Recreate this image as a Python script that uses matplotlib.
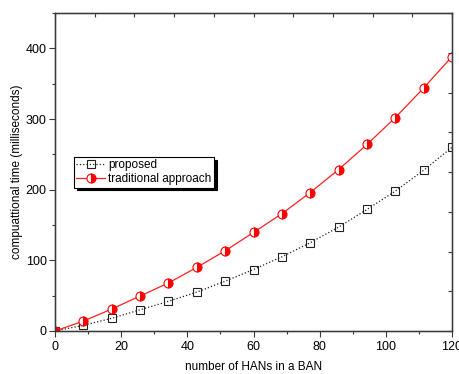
import numpy as np
import matplotlib.pyplot as plt

plt.rcParams['font.family'] = ['Liberation Sans', 'DejaVu Sans']

# number of HANs in a BAN
han_counts = [0, 8.57, 17.14, 25.71, 34.29, 42.86, 51.43, 60, 68.57, 77.14,
              85.71, 94.29, 102.86, 111.43, 120]
proposed = [0, 8, 18, 30, 42, 55, 70.5, 87, 105, 125, 147, 172, 198, 227.5, 260]
traditional = [0, 14, 31, 49.5, 68, 90, 113.5, 139.5, 166, 196, 228.5, 264, 302, 344, 388.5]

spine_col = '#3a3a3a'

fig = plt.figure(figsize=(4.59, 3.74), dpi=100)
ax = fig.add_axes([0.1198, 0.115, 0.865, 0.85])

ax.plot(han_counts, proposed, linestyle=':', color='#222222', lw=0.9,
        marker='s', markersize=5.5, markerfacecolor='none', markeredgecolor='#222222',
        markeredgewidth=0.8, label='proposed')
ax.plot(han_counts, traditional, linestyle='-', color='#ff2020', lw=0.9,
        marker='o', markersize=6.5, fillstyle='right', markerfacecolor='red',
        markerfacecoloralt='white', markeredgecolor='red', markeredgewidth=0.8,
        label='traditional approach')

ax.set_xlim(0, 120)
ax.set_ylim(0, 450)
ax.set_xticks(np.arange(0, 121, 20))
ax.set_xticks(np.arange(10, 120, 20), minor=True)
ax.set_yticks(np.arange(0, 401, 100))
ax.set_yticks(np.arange(50, 451, 100), minor=True)
ax.tick_params(which='major', direction='out', length=4, width=0.8, color=spine_col,
               labelsize=9, pad=2)
ax.tick_params(axis='x', which='major', pad=3.5)
ax.tick_params(which='minor', direction='out', length=2.5, width=0.8, color=spine_col)
for s in ax.spines.values():
    s.set_color(spine_col)
    s.set_linewidth(1.0)

# top and right axes with their own ticks, no labels
axt = ax.twiny()
axt.set_xlim(0, 120)
axt.set_xticks(np.arange(0, 121, 12))
axt.tick_params(direction='in', length=3, width=0.8, color=spine_col, labeltop=False)
axr = ax.twinx()
axr.set_ylim(0, 450)
axr.set_yticks(np.linspace(0, 450, 9))
axr.tick_params(direction='in', length=3, width=0.8, color=spine_col, labelright=False)
for a in (axt, axr):
    for s in a.spines.values():
        s.set_color(spine_col)

ax.set_xlabel('number of HANs in a BAN', fontsize=8.5, labelpad=5.5)
ax.set_ylabel('compuattional time (milliseconds)', fontsize=8.5, labelpad=2)

leg = ax.legend(loc='upper left', bbox_to_anchor=(0.048, 0.547), borderaxespad=0,
                fontsize=8.5, frameon=True, fancybox=False, edgecolor='black',
                shadow={'color': 'black', 'alpha': 1}, handlelength=2.4,
                handletextpad=0.3, borderpad=0.2, labelspacing=0.15)
leg.get_frame().set_linewidth(0.8)
leg.set_zorder(10)

fig.savefig('out.png', dpi=100)
